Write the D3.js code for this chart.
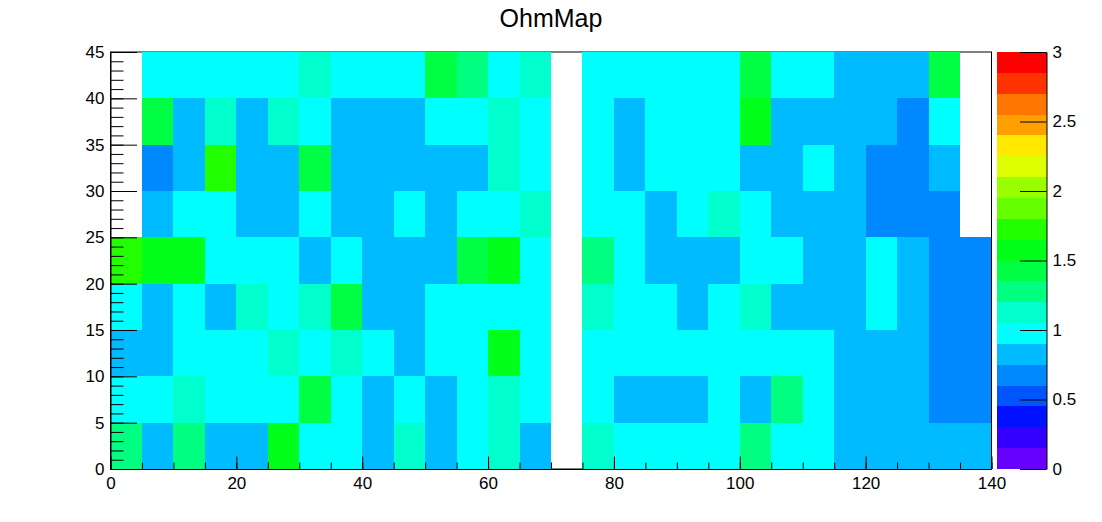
<!DOCTYPE html>
<html>
<head>
<meta charset="utf-8">
<script src="https://cdn.jsdelivr.net/npm/d3@7/dist/d3.min.js"></script>
<style>
  html, body { margin: 0; padding: 0; background: #fff; }
  svg { display: block; }
  text { font-family: "Liberation Sans", Arial, Helvetica, sans-serif; fill: #000; }
</style>
</head>
<body>
<svg id="chart" width="1102" height="522"></svg>
<script>
// ---- data ----
const title = "OhmMap";
const xEdges = [0,5,10,15,20,25,30,35,40,45,50,55,60,65,70,75,80,85,90,95,100,105,110,115,120,125,130,135,140];
const yEdges = [0,5,10,15,20,25,30,35,40,45];
const xTicks = [0,20,40,60,80,100,120,140];
const yTicks = [0,5,10,15,20,25,30,35,40,45];
const zTicks = [0,0.5,1,1.5,2,2.5,3];
const zRange = [0, 3];
const paletteColors = ["#6600ff","#3300ff","#0011ff","#0055ff","#0088ff","#00bbff","#00ffff","#00ffcc",
  "#00ff80","#00ff44","#00ff1a","#22ff00","#66ff00","#99ff00","#ddff00","#ffe800","#ffa000","#ff7700","#ff3300","#ff0000"];

// values per y-row (null = empty bin), x from 0 to 140
const row0_5   = [1.28,0.82,1.28,0.82,0.82,1.57,1.00,1.00,0.82,1.12,0.82,1.00,1.12,0.82,null,1.12,1.00,1.00,1.00,1.00,1.28,1.00,1.00,0.82,0.82,0.82,0.82,0.82];
const row5_10  = [1.00,1.00,1.12,1.00,1.00,1.00,1.42,1.00,0.82,1.00,0.82,1.00,1.12,1.00,null,1.00,0.82,0.82,0.82,1.00,0.82,1.28,1.00,0.82,0.82,0.82,0.68,0.68];
const row10_15 = [0.82,0.82,1.00,1.00,1.00,1.12,1.00,1.12,1.00,0.82,1.00,1.00,1.57,1.00,null,1.00,1.00,1.00,1.00,1.00,1.00,1.00,1.00,0.82,0.82,0.82,0.68,0.68];
const row15_20 = [1.00,0.82,1.00,0.82,1.12,1.00,1.12,1.42,0.82,0.82,1.00,1.00,1.00,1.00,null,1.12,1.00,1.00,0.82,1.00,1.12,0.82,0.82,0.82,1.00,0.82,0.68,0.68];
const row20_25 = [1.72,1.57,1.57,1.00,1.00,1.00,0.82,1.00,0.82,0.82,0.82,1.42,1.57,1.00,null,1.28,1.00,0.82,0.82,0.82,1.00,1.00,0.82,0.82,1.00,0.82,0.68,0.68];
const row25_30 = [null,0.82,1.00,1.00,0.82,0.82,1.00,0.82,0.82,1.00,0.82,1.00,1.00,1.12,null,1.00,1.00,0.82,1.00,1.12,1.00,0.82,0.82,0.82,0.68,0.68,0.68,null];
const row30_35 = [null,0.68,0.82,1.72,0.82,0.82,1.42,0.82,0.82,0.82,0.82,0.82,1.12,1.00,null,1.00,0.82,1.00,1.00,1.00,0.82,0.82,1.00,0.82,0.68,0.68,0.82,null];
const row35_40 = [null,1.42,0.82,1.12,0.82,1.12,1.00,0.82,0.82,0.82,1.00,1.00,1.12,1.00,null,1.00,0.82,1.00,1.00,1.00,1.57,0.82,0.82,0.82,0.82,0.68,1.00,null];
const row40_45 = [null,1.00,1.00,1.00,1.00,1.00,1.12,1.00,1.00,1.00,1.42,1.28,1.00,1.12,null,1.00,1.00,1.00,1.00,1.00,1.42,1.00,1.00,0.82,0.82,0.82,1.42,null];
const rows = [row0_5,row5_10,row10_15,row15_20,row20_25,row25_30,row30_35,row35_40,row40_45];

// ---- layout ----
const svg = d3.select("#chart");
const L = 110.5, R = 991.5, T = 52, B = 469;
const palL = 997, palR = 1046.5;

const x = d3.scaleLinear().domain([0,140]).range([L,R]);
const y = d3.scaleLinear().domain([0,45]).range([B,T]);
const z = d3.scaleLinear().domain(zRange).range([B,T]);
const color = d3.scaleQuantize().domain(zRange).range(paletteColors);

// frame (under cells)
svg.append("rect").attr("x",L).attr("y",T).attr("width",R-L).attr("height",B-T)
  .attr("fill","none").attr("stroke","#000").attr("stroke-width",1);

// cells
const cells = [];
rows.forEach((r, j) => r.forEach((v, i) => {
  if (v !== null) cells.push({x0:xEdges[i], x1:xEdges[i+1], y0:yEdges[j], y1:yEdges[j+1], v});
}));
svg.append("g").selectAll("rect").data(cells).join("rect")
  .attr("x", d => x(d.x0))
  .attr("y", d => y(d.y1))
  .attr("width", d => x(d.x1) - x(d.x0))
  .attr("height", d => y(d.y0) - y(d.y1))
  .attr("fill", d => color(d.v))
  .attr("shape-rendering","crispEdges");

// right frame line
svg.append("line").attr("x1",R).attr("x2",R).attr("y1",T).attr("y2",B).attr("stroke","#000");

const fs = "17px";
// y axis
const yMinor = d3.range(0,46,1);
svg.append("g").attr("transform",`translate(${L},0)`)
  .call(d3.axisLeft(y).tickValues(yMinor).tickSize(-13).tickSizeOuter(0).tickFormat(""))
  .call(g => g.select(".domain").remove());
const gy = svg.append("g").attr("transform",`translate(${L},0)`)
  .call(d3.axisLeft(y).tickValues(yTicks).tickSize(-26.5).tickSizeOuter(0).tickPadding(6).tickFormat(d3.format("d")));
gy.selectAll("text").style("font-size",fs).attr("fill","#000");
gy.selectAll("line,path").attr("stroke","#000");

// x axis
const xMinor = d3.range(0,141,5);
svg.append("g").attr("transform",`translate(0,${B})`)
  .call(d3.axisBottom(x).tickValues(xMinor).tickSize(-6.5).tickSizeOuter(0).tickFormat(""))
  .call(g => g.select(".domain").remove());
const gx = svg.append("g").attr("transform",`translate(0,${B})`)
  .call(d3.axisBottom(x).tickValues(xTicks).tickSize(-12.5).tickSizeOuter(0).tickPadding(8).tickFormat(d3.format("d")));
gx.selectAll("text").style("font-size",fs).attr("fill","#000");
gx.selectAll("line,path").attr("stroke","#000");

// palette
const pal = paletteColors.map((c,k) => ({c, v0: zRange[0] + k*(zRange[1]-zRange[0])/paletteColors.length, v1: zRange[0] + (k+1)*(zRange[1]-zRange[0])/paletteColors.length}));
svg.append("g").selectAll("rect").data(pal).join("rect")
  .attr("x", palL).attr("width", palR - palL)
  .attr("y", d => z(d.v1)).attr("height", d => z(d.v0) - z(d.v1))
  .attr("fill", d => d.c).attr("shape-rendering","crispEdges");
const gz = svg.append("g").attr("transform",`translate(${palR},0)`)
  .call(d3.axisRight(z).tickValues(zTicks).tickSize(-26.5).tickSizeOuter(0).tickPadding(6).tickFormat(d3.format("")));
gz.selectAll("text").style("font-size",fs).attr("fill","#000");
gz.selectAll("line,path").attr("stroke","#000");

// title
svg.append("text").attr("x",551).attr("y",27).attr("text-anchor","middle")
  .style("font-size","25px").text(title);
</script>
</body>
</html>
